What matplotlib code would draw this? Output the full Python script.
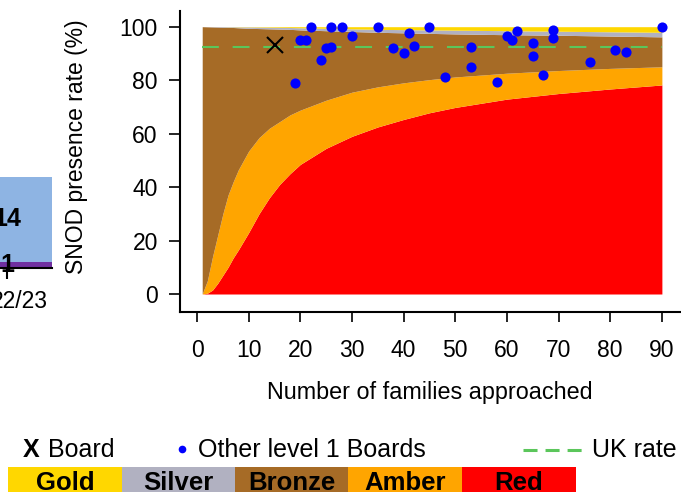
import numpy as np
import matplotlib.pyplot as plt
from matplotlib.patches import Rectangle

plt.rcParams['font.family'] = ['Liberation Sans', 'DejaVu Sans']

# funnel band boundaries
n_fam = [1, 2, 3, 4, 5, 6, 7, 8, 10, 12, 14, 16, 18, 20, 25, 30, 35, 40, 45, 50, 60, 70, 80, 90]
red_top = [0, 0.3, 1.5, 4, 7, 10, 13.5, 16.5, 23, 30, 36, 41, 45, 48.5, 54.5, 59, 62.5, 65.3, 67.8, 69.8, 72.9, 75.0, 76.7, 78.2]
amber_top = [0, 5, 14, 22, 30, 37, 42, 46.5, 53.5, 58.5, 62, 64.5, 67, 68.8, 72.5, 75.5, 77.5, 79, 80.2, 81.2, 82.6, 83.6, 84.4, 85.0]
bronze_top = [100, 99.95, 99.9, 99.85, 99.8, 99.75, 99.7, 99.6, 99.4, 99.3, 99.2, 99.1, 99.0, 98.8, 98.5, 98.2, 97.9, 97.7, 97.5, 97.3, 97.0, 96.8, 96.5, 96.2]
silver_top = [100, 100, 100, 100, 100, 99.95, 99.95, 99.9, 99.9, 99.85, 99.8, 99.75, 99.7, 99.6, 99.4, 99.2, 99.0, 98.9, 98.8, 98.7, 98.5, 98.3, 98.1, 97.9]
uk_rate = 92.5

# other level 1 boards
other_n = [19, 20, 21, 22, 24, 25, 26, 26, 28, 30, 35, 38, 40, 41, 42, 45, 48, 53, 53, 58,
           60, 61, 62, 65, 65, 67, 69, 69, 76, 81, 83, 90]
other_rate = [78.9, 95.0, 95.2, 100, 87.5, 92.0, 100, 92.3, 100, 96.7, 100, 92.1, 90.0, 97.6, 92.9, 100,
              81.2, 92.5, 84.9, 79.3, 96.7, 95.1, 98.4, 93.8, 89.2, 82.1, 98.6, 95.7, 86.8, 91.4, 90.4, 100]
board_n = 15
board_rate = 93.3

# partly visible stacked bar on the left
bar_cat = ['22/23']
bar_purple = [1]
bar_blue = [14]

band_names = ['Gold', 'Silver', 'Bronze', 'Amber', 'Red']
band_cols = ['#FFD700', '#B1B1C1', '#A66B26', '#FFA500', '#FF0000']

W, H = 681, 492
fig = plt.figure(figsize=(W / 100, H / 100), dpi=100)


def px_axes(x0, x1, y_top, y_bot):
    return fig.add_axes([x0 / W, 1 - y_bot / H, (x1 - x0) / W, (y_bot - y_top) / H])


# ---- main funnel plot
ax = px_axes(180, 681, 11, 312)
ax.fill_between(n_fam, 0, red_top, color=band_cols[4], lw=0)
ax.fill_between(n_fam, red_top, amber_top, color=band_cols[3], lw=0)
ax.fill_between(n_fam, amber_top, bronze_top, color=band_cols[2], lw=0)
ax.fill_between(n_fam, bronze_top, silver_top, color=band_cols[1], lw=0)
ax.fill_between(n_fam, silver_top, 100, color=band_cols[0], lw=0)
ax.plot([n_fam[0], n_fam[-1]], [uk_rate, uk_rate], color='#5BC65B', lw=1.5,
        ls=(0, (8.1, 6.6)))
ax.plot(other_n, other_rate, 'o', color='#0000FF', ms=7.3, mew=0, clip_on=False)
ax.plot(board_n, board_rate, 'x', color='black', ms=12, mew=1.5)

ax.set_xlim(-3.3, 93.7)
ax.set_ylim(-6.73, 105.87)
ax.set_xticks(range(0, 91, 10))
ax.set_yticks(range(0, 101, 20))
for s in ['top', 'right']:
    ax.spines[s].set_visible(False)
for s in ['left', 'bottom']:
    ax.spines[s].set_linewidth(1.5)
ax.tick_params(axis='x', length=7.5, width=1.2, pad=12, labelsize=16.5)
ax.tick_params(axis='y', length=8, width=1.2, pad=8, labelsize=16.5)

fig.text(77 / W, 1 - 147 / H, 'SNOD presence rate (%)', rotation=90,
         ha='center', va='center', fontsize=16.5)
fig.text(430 / W, 1 - 393 / H, 'Number of families approached',
         ha='center', va='center', fontsize=16.8)

# ---- cut-off bar chart on the left
bx = px_axes(-48, 52, 100, 268.3)
xpos = np.arange(len(bar_cat))
bx.bar(xpos, bar_purple, width=0.9, color='#7030A0')
bx.bar(xpos, bar_blue, width=0.9, bottom=bar_purple, color='#8EB4E3')
for i in range(len(bar_cat)):
    bx.text(xpos[i], bar_purple[i] / 2, str(bar_purple[i]), ha='center', va='center',
            fontsize=18, weight='bold')
    bx.text(xpos[i], bar_purple[i] + bar_blue[i] / 2, str(bar_blue[i]), ha='center',
            va='center', fontsize=18, weight='bold')
bx.set_xlim(-0.55, 0.45)
bx.set_ylim(0, 27.5)
bx.set_xticks(xpos)
bx.set_xticklabels([''] * len(bar_cat))
bx.set_yticks([])
for s in ['top', 'right', 'left']:
    bx.spines[s].set_visible(False)
bx.spines['bottom'].set_linewidth(1.5)
bx.tick_params(axis='x', length=8, width=1.5)
bx.patch.set_alpha(0)

# ---- legend, drawn in pixel space
lg = fig.add_axes([0, 0, 1, 1])
lg.set_xlim(0, W)
lg.set_ylim(H, 0)
lg.axis('off')
lg.patch.set_alpha(0)
# category label of the cut-off bar chart
lg.text(48.3, 308, bar_cat[0], fontsize=16.5, ha='right', va='baseline')

base = 457.3
lg.text(22.7, base, 'X', weight='bold', fontsize=18, va='baseline')
lg.text(48.3, base, 'Board', fontsize=18, va='baseline')
lg.plot([181.7], [449], 'o', color='#0000FF', ms=5.5, mew=0)
lg.text(198.3, base, 'Other level 1 Boards', fontsize=18, va='baseline')
lg.plot([523.3, 581.7], [450, 450], color='#5BC65B', lw=2.2, ls=(0, (14 / 3.05, 8 / 3.05)))
lg.text(591.7, base, 'UK rate', fontsize=18, va='baseline')

edges = [8.3, 121.7, 235, 348.3, 461.7, 576]
for i, name in enumerate(band_names):
    lg.add_patch(Rectangle((edges[i], 466.7), edges[i + 1] - edges[i], 40,
                           color=band_cols[i], lw=0))
    lg.text((edges[i] + edges[i + 1]) / 2, 490, name, weight='bold', fontsize=18.5,
            ha='center', va='baseline')

fig.savefig('out.png', dpi=100)
